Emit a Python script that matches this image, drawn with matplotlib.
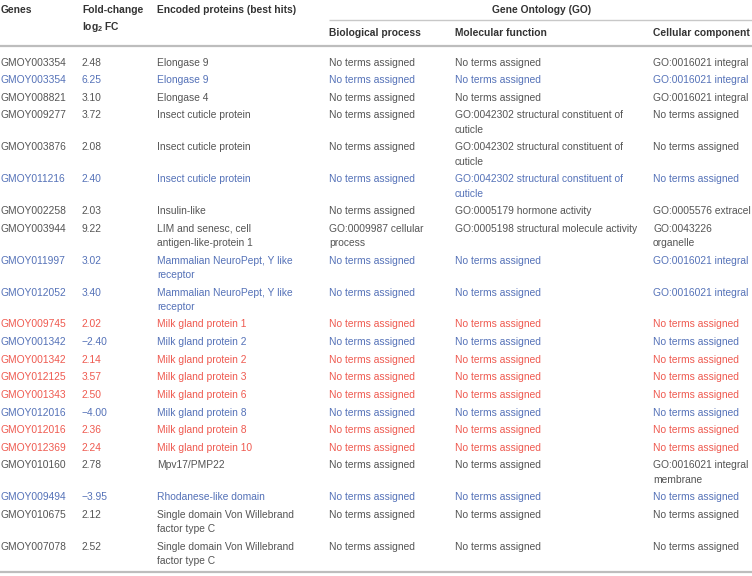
import matplotlib
matplotlib.use("Agg")
import matplotlib.pyplot as plt

plt.rcParams['font.family'] = ['Liberation Sans', 'DejaVu Sans']
plt.rcParams['mathtext.fontset'] = 'custom'
plt.rcParams['mathtext.bf'] = 'Liberation Sans:bold'
plt.rcParams['mathtext.rm'] = 'Liberation Sans'

NT = "No terms assigned"
genes = ["GMOY003354", "GMOY003354", "GMOY008821", "GMOY009277", "GMOY003876",
         "GMOY011216", "GMOY002258", "GMOY003944", "GMOY011997", "GMOY012052",
         "GMOY009745", "GMOY001342", "GMOY001342", "GMOY012125", "GMOY001343",
         "GMOY012016", "GMOY012016", "GMOY012369", "GMOY010160", "GMOY009494",
         "GMOY010675", "GMOY007078"]
fold_change = ["2.48", "6.25", "3.10", "3.72", "2.08", "2.40", "2.03", "9.22", "3.02",
               "3.40", "2.02", "\u22122.40", "2.14", "3.57", "2.50", "\u22124.00", "2.36",
               "2.24", "2.78", "\u22123.95", "2.12", "2.52"]
proteins = ["Elongase 9", "Elongase 9", "Elongase 4", "Insect cuticle protein",
            "Insect cuticle protein", "Insect cuticle protein", "Insulin-like",
            "LIM and senesc, cell\nantigen-like-protein 1",
            "Mammalian NeuroPept, Y like\nreceptor", "Mammalian NeuroPept, Y like\nreceptor",
            "Milk gland protein 1", "Milk gland protein 2", "Milk gland protein 2",
            "Milk gland protein 3", "Milk gland protein 6", "Milk gland protein 8",
            "Milk gland protein 8", "Milk gland protein 10", "Mpv17/PMP22",
            "Rhodanese-like domain", "Single domain Von Willebrand\nfactor type C",
            "Single domain Von Willebrand\nfactor type C"]
bio_process = [NT] * 22
bio_process[7] = "GO:0009987 cellular\nprocess"
cuticle = "GO:0042302 structural constituent of\ncuticle"
mol_function = [NT, NT, NT, cuticle, cuticle, cuticle, "GO:0005179 hormone activity",
                "GO:0005198 structural molecule activity"] + [NT] * 14
integral = "GO:0016021 integral"
cell_component = [integral, integral, integral, NT, NT, NT, "GO:0005576 extracel",
                  "GO:0043226\norganelle", integral, integral, NT, NT, NT, NT, NT, NT,
                  NT, NT, "GO:0016021 integral\nmembrane", NT, NT, NT]
# k = default, b = blue (highlight), r = red (highlight)
row_colour = ["k", "b", "k", "k", "k", "b", "k", "k", "b", "b", "r", "b", "r", "r",
              "r", "b", "r", "r", "k", "b", "k", "k"]

colours = {"k": "#555555", "b": "#5572b8", "r": "#ef5a50"}
W, H = 752, 576
fig = plt.figure(figsize=(W / 100, H / 100), dpi=100)
ax = fig.add_axes([0, 0, 1, 1])
ax.set_xlim(0, W)
ax.set_ylim(H, 0)
ax.axis("off")

fs = 7.4
hc = "#333333"
col_x = [0.5, 82, 157, 329, 455, 653]

# headers
ax.text(col_x[0], 13, "Genes", fontsize=fs, fontweight="bold", color=hc, va="baseline")
ax.text(col_x[1], 13, "Fold-change", fontsize=fs, fontweight="bold", color=hc, va="baseline")
ax.text(col_x[1], 30, r"log$_\mathbf{2}$ FC", fontsize=fs, fontweight="bold", color=hc, va="baseline")
ax.text(col_x[2], 13, "Encoded proteins (best hits)", fontsize=fs, fontweight="bold", color=hc, va="baseline")
ax.text(542, 13, "Gene Ontology (GO)", fontsize=fs, fontweight="bold", color=hc, va="baseline", ha="center")
for x, t in zip(col_x[3:], ["Biological process", "Molecular function", "Cellular component"]):
    ax.text(x, 36, t, fontsize=fs, fontweight="bold", color=hc, va="baseline")

ax.plot([329, W], [19.5, 19.5], color="#c8c8c8", lw=1.0, solid_capstyle="butt")
ax.plot([0, W], [46, 46], color="#bdbdbd", lw=1.6, solid_capstyle="butt")
ax.plot([0, W], [572, 572], color="#bdbdbd", lw=1.6, solid_capstyle="butt")

y = 62.0
step = 17.6
line_gap = 14.3
for i in range(len(genes)):
    cells = [genes[i], fold_change[i], proteins[i], bio_process[i], mol_function[i], cell_component[i]]
    c = colours[row_colour[i]]
    nlines = max(s.count("\n") + 1 for s in cells)
    for x, s in zip(col_x, cells):
        for j, line in enumerate(s.split("\n")):
            ax.text(x, y + 3.7 + j * line_gap, line, fontsize=fs, color=c, va="baseline")
    y += step + (nlines - 1) * line_gap

fig.savefig("out.png", dpi=100)
